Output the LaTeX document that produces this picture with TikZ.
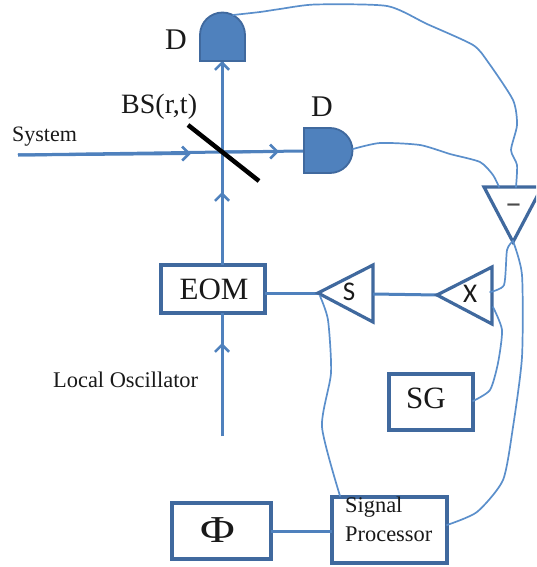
\documentclass[tikz,border=0pt]{standalone}
\usepackage{fontspec}
\setmainfont{Liberation Serif}
\newfontfamily\cali{Carlito}
\usetikzlibrary{arrows.meta}
\definecolor{beam}{HTML}{4F81BD}
\definecolor{edge}{HTML}{40699E}
\definecolor{wirec}{HTML}{5B8FCB}
\tikzset{
  boxn/.style={draw=edge,line width=3.2pt,fill=white,inner sep=0pt,outer sep=0pt,anchor=north west},
  tri/.style={draw=edge,line width=3.2pt,fill=white,line join=miter},
  det/.style={draw=edge,line width=1.8pt,fill=beam},
  ray/.style={draw=beam,line width=3pt},
  wire/.style={draw=wirec,line width=1.7pt,line cap=round,line join=round},
  opentip/.style={-{Straight Barb[length=7pt,width=14pt,line width=2.6pt]}},
  lab/.style={inner sep=0pt,text=black!90}
}
\newcommand{\fsz}[1]{\fontsize{#1}{#1}\selectfont}
\begin{document}
\begin{tikzpicture}[x=1pt,y=-1pt]
\useasboundingbox (0,0) rectangle (536,567);
\clip (0,0) rectangle (536,567);
% named connection points
\coordinate (sysstart) at (18,155);
\coordinate (bsc) at (222,152);
\coordinate (dettop) at (222,61);
\coordinate (detright) at (304,151);
\coordinate (lostart) at (222,436);
\coordinate (stip) at (318,293);
\coordinate (sback) at (373,294);
\coordinate (xtip) at (437,295);
\coordinate (mtip) at (513,242);
% rays
\draw[ray] (sysstart) -- (bsc) -- (detright);
\draw[ray,opentip] (sysstart) -- (191,153.5);
\draw[ray,opentip] (bsc) -- (279,151.5);
\node[boxn,minimum width=104pt,minimum height=48pt] (eom) at (161,265) {};
\draw[ray] (eom.north -| bsc) -- (dettop);
\draw[ray,opentip] (eom.north -| bsc) -- (222,192);
\draw[ray,opentip] (bsc) -- (dettop);
\draw[ray] (lostart) -- (eom.south -| lostart);
\draw[ray,opentip] (lostart) -- (222,343);
% beam splitter
\draw[black,line width=4.5pt] (188,125) coordinate (bsa) -- (259,181) coordinate (bsb);
% detectors
\draw[det] (200,61) -- (200,35) arc[start angle=180,end angle=360,radius=22.5] -- (245,61) -- cycle;
\draw[det] (304,128) -- (330,128) arc[start angle=-90,end angle=90,radius=22.5] -- (304,173) -- cycle;
\node[lab,font=\fsz{30}] (dl1) at (176,39.5) {D};
\node[lab,font=\fsz{30}] (dl2) at (322,106.5) {D};
% triangles
\draw[tri] (484,187) -- (542,187) -- (mtip) -- cycle;
\node[lab,font=\cali\fsz{34},text=black!70] (minus) at (513.5,209) {–};
\draw[ray] (eom.east |- stip) -- (stip);
\draw[tri] (stip) -- (373,265) -- (373,322) -- cycle;
\node[lab,font=\cali\fsz{27}] (sl) at (349,292) {S};
\draw[ray] (sback) -- (xtip);
\draw[tri] (xtip) -- (492,267) -- (492,324) -- cycle;
\node[lab,font=\cali\fsz{27}] (xl) at (470,294) {X};
% boxes
\node[lab,font=\fsz{31}] (eomt) at (214,289) {EOM};
\node[boxn,minimum width=84pt,minimum height=56pt] (sg) at (389,374) {};
\node[lab,font=\fsz{31}] at (426,398) {SG};
\node[boxn,minimum width=115pt,minimum height=66pt] (sp) at (332,497) {};
\node[lab,font=\fsz{22.4},anchor=west] at (345,507) {Signal};
\node[lab,font=\fsz{22.4},anchor=west] at (345,534) {Processor};
\node[boxn,minimum width=99pt,minimum height=56pt] (phi) at (172,503) {};
\node[lab,font=\fsz{38}] at (218,530) {\scalebox{1.25}[1]{Φ}};
\draw[ray] (phi.east) -- (sp.west |- phi.east);
% labels
\node[lab,font=\fsz{28},anchor=west] at (121,106.5) {BS(r,t)};
\node[lab,font=\fsz{22},anchor=west] at (12,137) {System};
\node[lab,font=\fsz{22.4},anchor=west] at (53,380) {Local Oscillator};
% hand-drawn wires
\draw[wire] plot[smooth,tension=0.4] coordinates {(233,15) (260,12) (280,9) (315,4.5) (387,6) (427,24) (473,45) (488,62) (513,100) (517,125) (511,150) (517,165) (516,187)};
\draw[wire] plot[smooth,tension=0.4] coordinates {(353,149) (380,143) (420,145) (450,154) (480,162) (493,175) (499,187)};
\draw[wire] plot[smooth,tension=0.4] coordinates {(513,241) (507,250) (504,285) (490,292)};
\draw[wire] plot[smooth,tension=0.4] coordinates {(513,241) (522,275) (522,357) (513,427) (503,480) (477,512) (447,525)};
\draw[wire] plot[smooth,tension=0.4] coordinates {(473,401) (490,390) (498,363) (502,330) (493,307)};
\draw[wire] plot[smooth,tension=0.4] coordinates {(320,296) (328,320) (331,373) (322,427) (340,496)};
\end{tikzpicture}
\end{document}
